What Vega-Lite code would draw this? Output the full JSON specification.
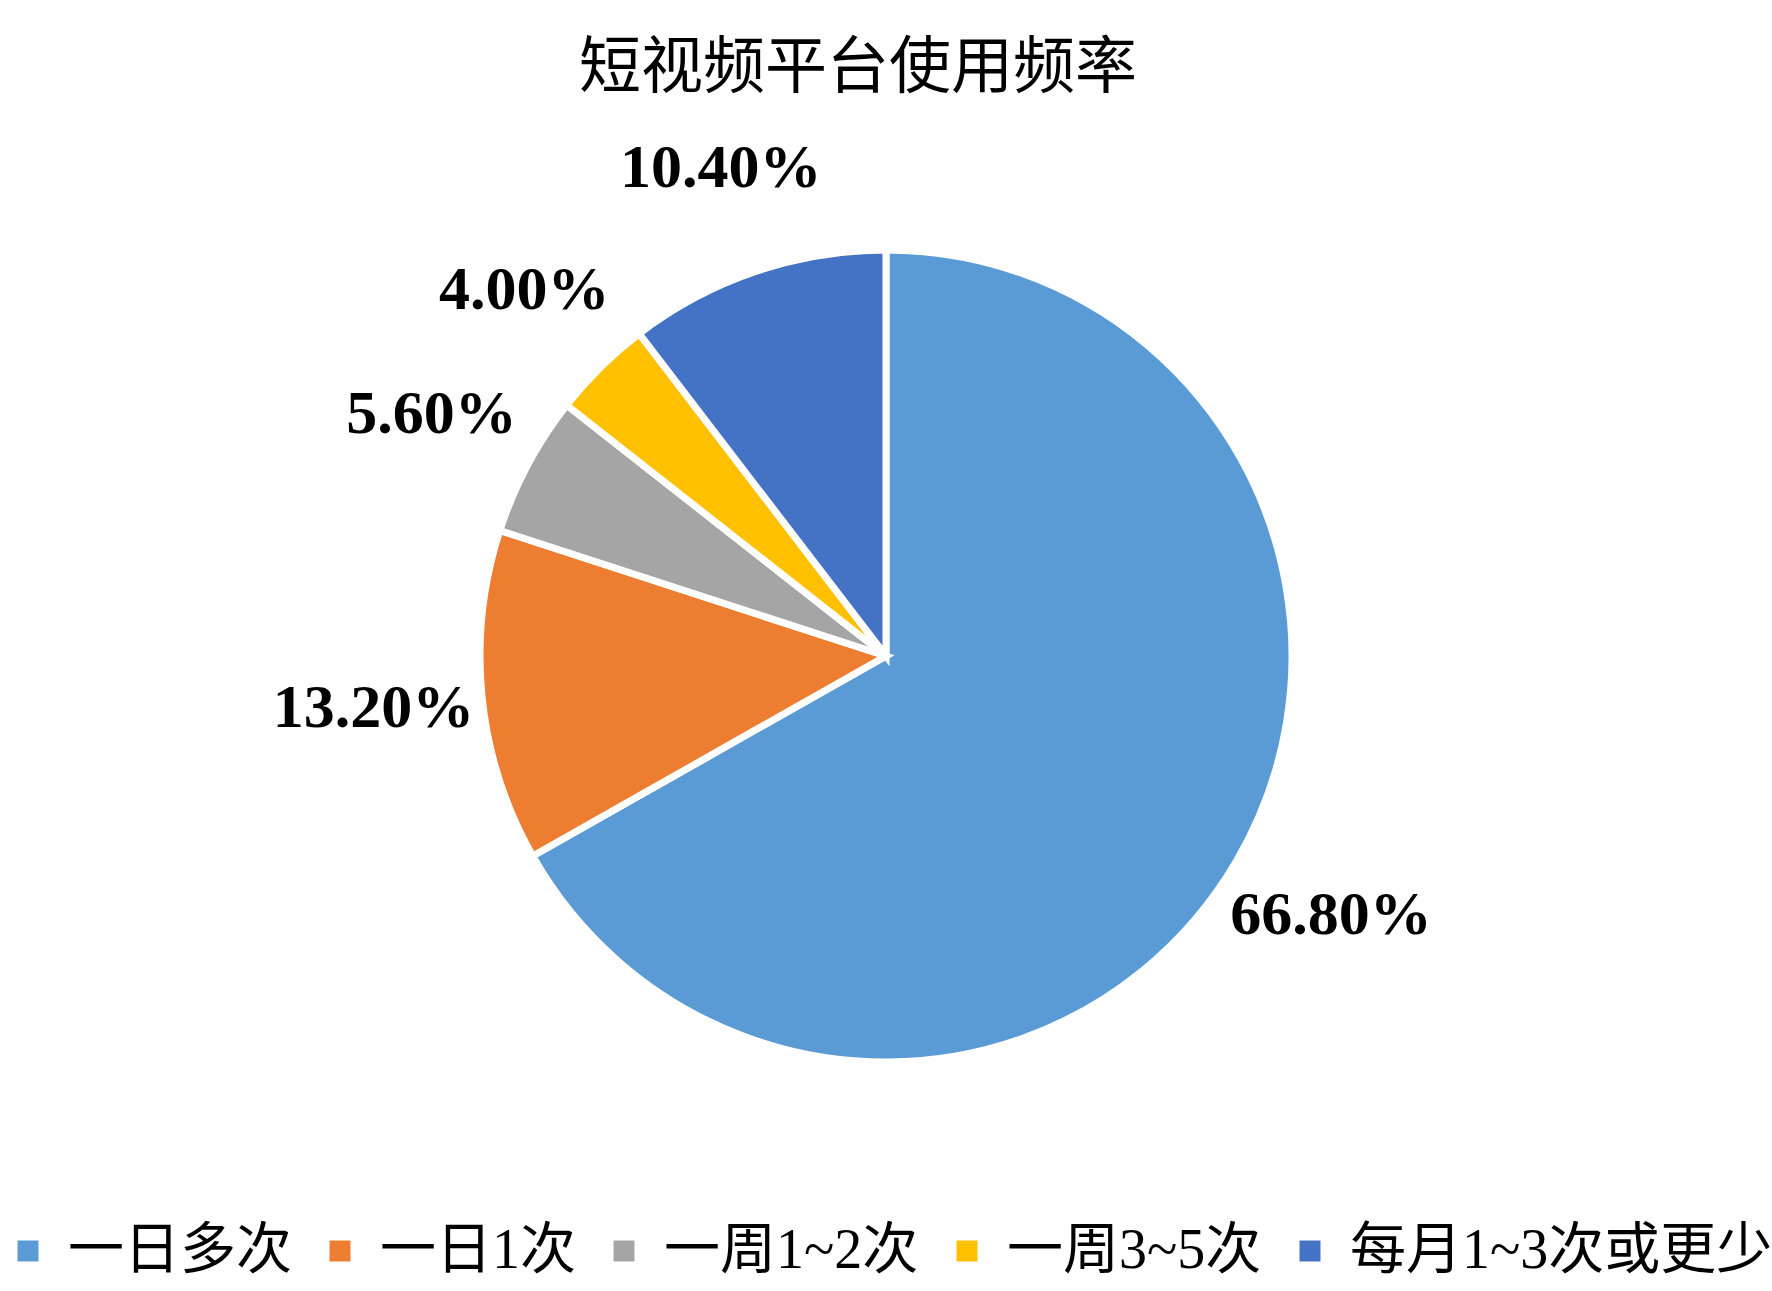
{
  "$schema": "https://vega.github.io/schema/vega-lite/v6.json",
  "width": 1772,
  "height": 1291,
  "autosize": {"type": "fit", "contains": "padding"},
  "padding": {"top": 38, "bottom": 12, "left": 0, "right": 0},
  "background": "white",
  "title": {
    "text": "短视频平台使用频率",
    "font": "Noto Sans CJK SC",
    "fontSize": 62,
    "fontWeight": "normal",
    "color": "#000000",
    "anchor": "middle",
    "dx": -28,
    "offset": 2
  },
  "data": {
    "values": [
      {"category": "一日多次", "value": 66.8, "label": "66.80%", "rank": 1},
      {"category": "一日1次", "value": 13.2, "label": "13.20%", "rank": 2},
      {"category": "一周1~2次", "value": 5.6, "label": "5.60%", "rank": 3},
      {"category": "一周3~5次", "value": 4.0, "label": "4.00%", "rank": 4},
      {"category": "每月1~3次或更少", "value": 10.4, "label": "10.40%", "rank": 5}
    ]
  },
  "encoding": {
    "theta": {"field": "value", "type": "quantitative", "stack": true},
    "order": {"field": "rank", "type": "quantitative", "sort": "ascending"}
  },
  "layer": [
    {
      "mark": {"type": "arc", "outerRadius": 406, "stroke": "white", "strokeWidth": 7},
      "encoding": {
        "color": {
          "field": "category",
          "type": "nominal",
          "sort": ["一日多次", "一日1次", "一周1~2次", "一周3~5次", "每月1~3次或更少"],
          "scale": {
            "domain": ["一日多次", "一日1次", "一周1~2次", "一周3~5次", "每月1~3次或更少"],
            "range": ["#5B9BD5", "#ED7D31", "#A5A5A5", "#FFC000", "#4472C4"]
          },
          "legend": {
            "title": null,
            "orient": "bottom",
            "direction": "horizontal",
            "symbolType": "square",
            "symbolSize": 440,
            "symbolStrokeWidth": 0,
            "labelFont": "Liberation Serif, Noto Sans CJK SC",
            "labelFontSize": 56,
            "labelColor": "#000000",
            "labelLimit": 700,
            "columnPadding": 20,
            "symbolOffset": 0,
            "labelOffset": 12,
            "offset": 14
          }
        }
      }
    },
    {
      "mark": {
        "type": "text",
        "radius": 515,
        "font": "Liberation Serif",
        "fontWeight": "bold",
        "fontSize": 62,
        "color": "#000000"
      },
      "encoding": {
        "text": {"field": "label", "type": "nominal"}
      }
    }
  ],
  "config": {
    "view": {"stroke": null},
    "legend": {"layout": {"bottom": {"anchor": "middle"}}}
  }
}
